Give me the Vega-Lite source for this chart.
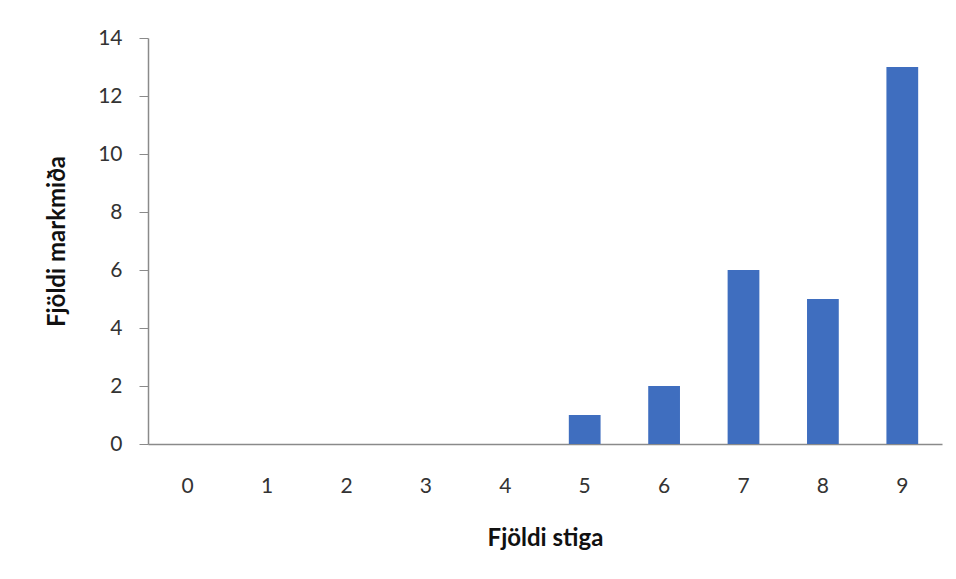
{
  "$schema": "https://vega.github.io/schema/vega-lite/v6.json",
  "autosize": {"type": "none"},
  "width": 794,
  "height": 406,
  "padding": {"left": 148, "top": 38, "right": 14, "bottom": 135},
  "background": "white",
  "config": {
    "view": {"stroke": null},
    "font": "Lato"
  },
  "data": {
    "values": [
      {"stig": "0", "fjoldi": 0},
      {"stig": "1", "fjoldi": 0},
      {"stig": "2", "fjoldi": 0},
      {"stig": "3", "fjoldi": 0},
      {"stig": "4", "fjoldi": 0},
      {"stig": "5", "fjoldi": 1},
      {"stig": "6", "fjoldi": 2},
      {"stig": "7", "fjoldi": 6},
      {"stig": "8", "fjoldi": 5},
      {"stig": "9", "fjoldi": 13}
    ]
  },
  "mark": {"type": "bar", "color": "#3F6EBF"},
  "encoding": {
    "x": {
      "field": "stig",
      "type": "ordinal",
      "sort": null,
      "scale": {"paddingInner": 0.6, "paddingOuter": 0.3},
      "axis": {
        "title": "Fjöldi stiga",
        "labelAngle": 0,
        "ticks": false,
        "labelPadding": 31,
        "labelFontSize": 21,
        "labelColor": "#333333",
        "domainColor": "#8a8a8a",
        "domainWidth": 1.5,
        "titleFontSize": 24,
        "titleFontWeight": "bold",
        "titleColor": "#111111",
        "titlePadding": 30
      }
    },
    "y": {
      "field": "fjoldi",
      "type": "quantitative",
      "scale": {"domain": [0, 14]},
      "axis": {
        "title": "Fjöldi markmiða",
        "values": [0, 2, 4, 6, 8, 10, 12, 14],
        "grid": false,
        "tickSize": 9,
        "tickColor": "#8a8a8a",
        "domainColor": "#8a8a8a",
        "domainWidth": 1.5,
        "labelPadding": 17,
        "labelFontSize": 21,
        "labelColor": "#333333",
        "titleFontSize": 24,
        "titleFontWeight": "bold",
        "titleColor": "#111111",
        "titlePadding": 28
      }
    }
  }
}
